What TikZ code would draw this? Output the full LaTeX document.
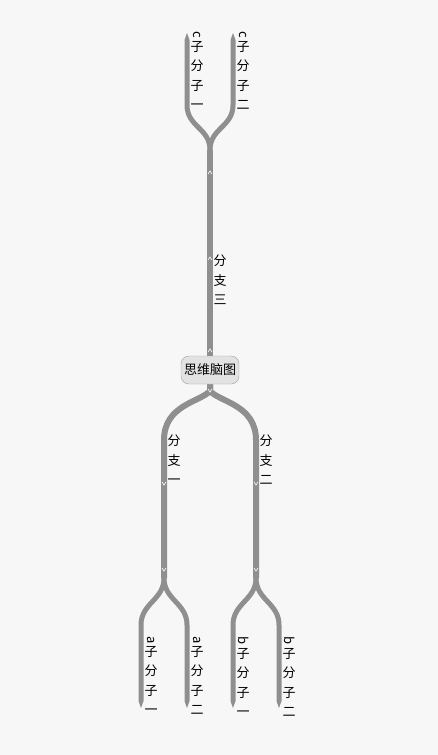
\documentclass[tikz,border=0pt]{standalone}
\usepackage{fontspec}
\usepackage{graphicx}
\newfontfamily\cjk{Noto Sans CJK SC}
\definecolor{bgc}{HTML}{F7F7F7}
\definecolor{lineg}{HTML}{8F8F8F}
\definecolor{rootfill}{HTML}{E2E2E2}
\definecolor{rootdraw}{HTML}{A0A0A0}
\newcommand{\rl}[1]{\rotatebox[origin=c]{-90}{#1}}
\begin{document}
\begin{tikzpicture}[x=1pt,y=-1pt,
  trunk/.style={draw=lineg, line width=6pt},
  leaf/.style={draw=lineg, line width=5pt},
  tipfill/.style={fill=lineg},
  chev/.style={draw=white, line width=0.6pt},
  lbl/.style={font=\cjk\fontsize{13}{19.5}\selectfont, align=center, inner sep=0pt, anchor=north west, text=black},
  rootbox/.style={draw=rootdraw, fill=rootfill, rounded corners=8pt, minimum width=58pt, minimum height=28pt, inner sep=1pt, font=\cjk\fontsize{13}{15}\selectfont}
]
\fill[bgc] (0,0) rectangle (438,755);
\useasboundingbox (0,0) rectangle (438,755);

\coordinate (tsplit) at (210,150);
\coordinate (ltop) at (164,578);
\coordinate (rtop) at (256,578);

% top branch
\draw[trunk] (210,358) -- (tsplit);
\draw[leaf] (tsplit) .. controls (210,128) and (187,127) .. (187,105) -- (187,40) coordinate (c1);
\draw[leaf] (tsplit) .. controls (210,128) and (233,127) .. (233,105) -- (233,40) coordinate (c2);
\fill[tipfill] (c1) ++(-2.5,0) -- ++(2.5,-7) -- ++(2.5,7) -- cycle;
\fill[tipfill] (c2) ++(-2.5,0) -- ++(2.5,-7) -- ++(2.5,7) -- cycle;

% bottom branches
\draw[trunk] (210,382) -- (210,391) .. controls (200,402) and (164,405) .. (164,440) -- (ltop);
\draw[trunk] (210,382) -- (210,391) .. controls (220,402) and (256,405) .. (256,440) -- (rtop);
\draw[leaf] (ltop) .. controls (164,600) and (141,603) .. (141,625) -- (141,701) coordinate (a1);
\draw[leaf] (ltop) .. controls (164,600) and (187,603) .. (187,625) -- (187,701) coordinate (a2);
\draw[leaf] (rtop) .. controls (256,600) and (233,603) .. (233,625) -- (233,701) coordinate (b1);
\draw[leaf] (rtop) .. controls (256,600) and (279,603) .. (279,625) -- (279,701) coordinate (b2);
\foreach \p in {a1,a2,b1,b2}
  \fill[tipfill] (\p) ++(-2.5,0) -- ++(2.5,7) -- ++(2.5,-7) -- cycle;

% root node
\node[rootbox] (root) at (210,370) {思维脑图};

% small chevrons
\foreach \y in {172,258,350}
  \draw[chev] (208,\y+2) -- (210,\y-1) -- (212,\y+2);
\draw[chev] (208,389) -- (210,392) -- (212,389);
\foreach \x in {164,256}
  \foreach \y in {484,570}
    \draw[chev] (\x-2,\y-2) -- (\x,\y+1) -- (\x+2,\y-2);

% labels
\node[lbl] (lc1) at (190.5,31) {\rl{c}\\[-6.5pt]子\\分\\子\\一};
\node[lbl] (lc2) at (236.5,31) {\rl{c}\\[-6.5pt]子\\分\\子\\二};
\node[lbl] (l3) at (213.5,255) {分\\支\\三};
\node[lbl] (l1) at (167.5,435) {分\\支\\一};
\node[lbl] (l2) at (259.5,435) {分\\支\\二};
\node[lbl] (la1) at (144.5,636) {\rl{a}\\[-6.5pt]子\\分\\子\\一};
\node[lbl] (la2) at (190.5,636) {\rl{a}\\[-6.5pt]子\\分\\子\\二};
\node[lbl] (lb1) at (236.5,636) {\rl{b}\\[-6.5pt]子\\分\\子\\一};
\node[lbl] (lb2) at (282.5,636) {\rl{b}\\[-6.5pt]子\\分\\子\\二};
\end{tikzpicture}
\end{document}
